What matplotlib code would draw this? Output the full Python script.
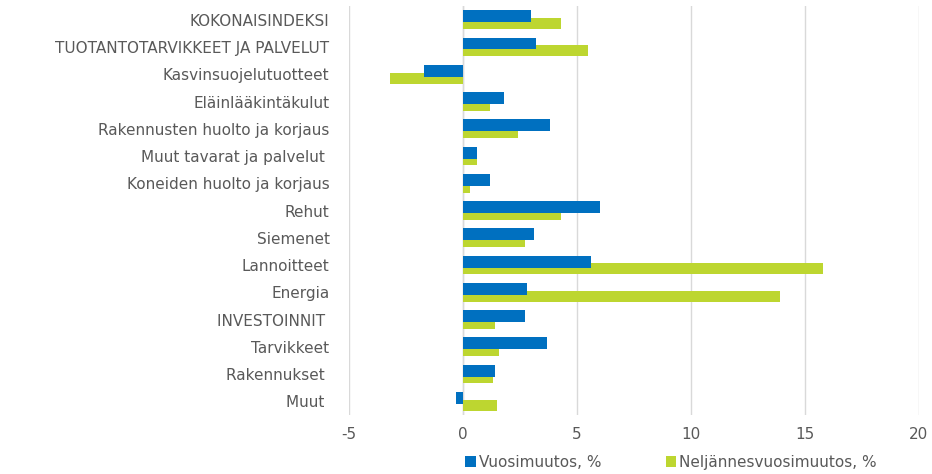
import matplotlib
matplotlib.use("Agg")
import matplotlib.pyplot as plt
import numpy as np

categories = ["KOKONAISINDEKSI", "TUOTANTOTARVIKKEET JA PALVELUT", "Kasvinsuojelutuotteet",
              "Eläinlääkintäkulut", "Rakennusten huolto ja korjaus", "Muut tavarat ja palvelut ",
              "Koneiden huolto ja korjaus", "Rehut", "Siemenet", "Lannoitteet", "Energia",
              "INVESTOINNIT ", "Tarvikkeet", "Rakennukset ", "Muut "]
vuosi = [3.0, 3.2, -1.7, 1.8, 3.8, 0.6, 1.2, 6.0, 3.1, 5.6, 2.8, 2.7, 3.7, 1.4, -0.3]
neljannes = [4.3, 5.5, -3.2, 1.2, 2.4, 0.6, 0.3, 4.3, 2.7, 15.8, 13.9, 1.4, 1.6, 1.3, 1.5]
xticks = [-5, 0, 5, 10, 15, 20]

blue = "#0070C0"
green = "#BDD630"
txt = "#595959"

fig = plt.figure(figsize=(9.32, 4.74), dpi=100)
ax = fig.add_axes([0.3745, 0.1245, 0.6115, 0.8625])

y = np.arange(len(categories))
ax.barh(y + 0.14, neljannes, height=0.40, color=green, zorder=2, label="Neljännesvuosimuutos, %")
ax.barh(y - 0.13, vuosi, height=0.44, color=blue, zorder=3, label="Vuosimuutos, %")

ax.set_xlim(-5, 20)
ax.set_ylim(len(categories) - 0.5, -0.5)
ax.set_xticks(xticks)
ax.set_xticklabels([str(t) for t in xticks], color=txt, fontsize=11)
ax.set_yticks(y)
ax.set_yticklabels(categories, color=txt, fontsize=11)
ax.tick_params(axis="both", length=0)
ax.tick_params(axis="y", pad=14)
ax.tick_params(axis="x", pad=9)
ax.grid(axis="x", color="#D9D9D9", linewidth=1, zorder=0)
ax.axvline(0, color="#D9D9D9", linewidth=1, zorder=1)
for s in ax.spines.values():
    s.set_visible(False)

handles, labels = ax.get_legend_handles_labels()
fig.legend(handles[::-1], labels[::-1], loc="lower center", bbox_to_anchor=(0.72, -0.02), ncol=2,
           frameon=False, fontsize=11, labelcolor=txt, handlelength=0.7, handleheight=0.7,
           handletextpad=0.2, columnspacing=4.2)

fig.savefig("out.png", dpi=100)
